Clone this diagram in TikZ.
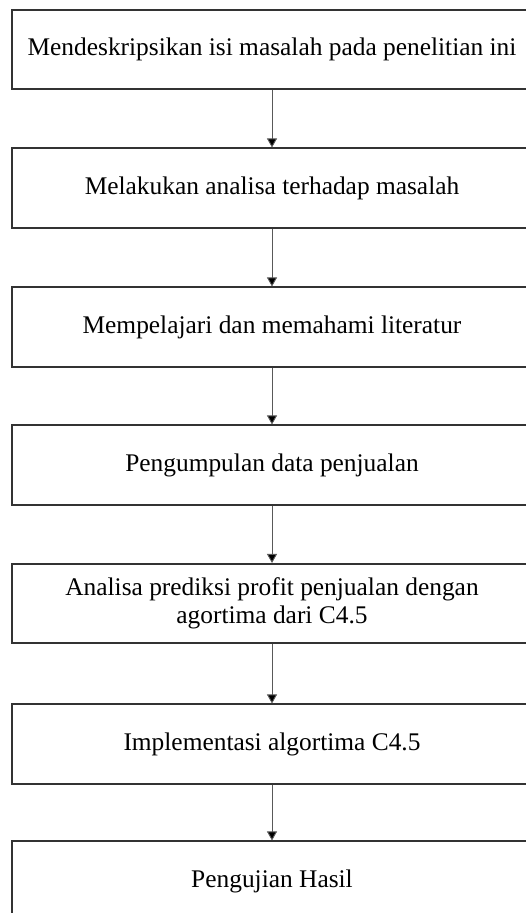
\documentclass[tikz,border=0pt]{standalone}
\usepackage{fontspec}
\setmainfont{Liberation Serif}
\usetikzlibrary{arrows.meta, positioning}

\begin{document}
\begin{tikzpicture}[x=1pt, y=-1pt,
    stepbox/.style={draw=black!80, line width=1.6pt, minimum width=520pt, minimum height=79.5pt,
        inner sep=0pt, align=center, font=\fontsize{25.4}{28.5}\selectfont},
    flow/.style={draw=black!65, line width=0.9pt, -{Triangle[width=10pt,length=9pt,fill=black]}}]
\useasboundingbox (0,0) rectangle (525,913);
% Research steps
\foreach \y/\name/\txt in {49.5/desc/{Mendeskripsikan isi masalah pada penelitian ini},
    188/anal/{Melakukan analisa terhadap masalah},
    327/lit/{Mempelajari dan memahami literatur},
    465/data/{Pengumpulan data penjualan},
    603.5/pred/{Analisa prediksi profit penjualan dengan\\agortima dari C4.5},
    744/impl/{Implementasi algortima C4.5},
    881/test/{Pengujian Hasil}} {
    \node[stepbox] (\name) at (272,\y) {\txt};
}
% Flow arrows
\foreach \a/\b in {desc/anal, anal/lit, lit/data, data/pred, pred/impl, impl/test} {
    \draw[flow] (\a) -- (\b);
}
\end{tikzpicture}
\end{document}
